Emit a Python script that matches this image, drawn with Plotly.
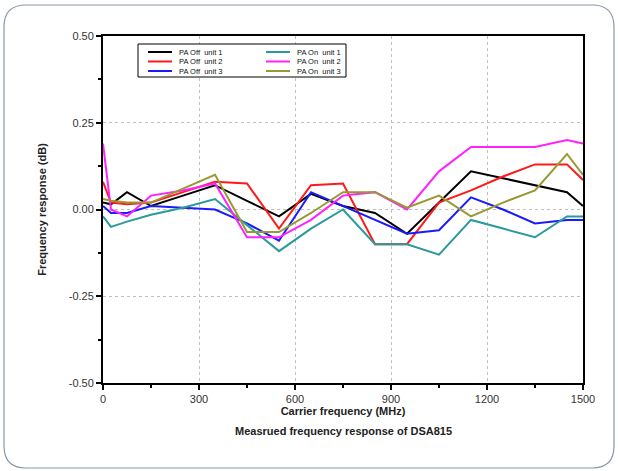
import plotly.graph_objects as go

freq = [0, 25, 75, 150, 250, 350, 450, 550, 650, 750, 850, 950, 1050, 1150, 1250, 1350, 1450, 1500]

names = ["PA Off  unit 1", "PA Off  unit 2", "PA Off  unit 3",
         "PA On  unit 1", "PA On  unit 2", "PA On  unit 3"]

off_unit1 = [0.02, 0.015, 0.05, 0.01, 0.04, 0.07, 0.025, -0.02, 0.045, 0.01, -0.01, -0.07, 0.02, 0.11, 0.09, 0.07, 0.05, 0.01]
off_unit2 = [0.08, 0.02, 0.015, 0.02, 0.05, 0.08, 0.075, -0.055, 0.07, 0.075, -0.1, -0.1, 0.02, 0.055, 0.095, 0.13, 0.13, 0.085]
off_unit3 = [0.01, -0.01, -0.01, 0.01, 0.005, 0.0, -0.04, -0.09, 0.05, 0.01, -0.03, -0.07, -0.06, 0.035, 0.0, -0.04, -0.03, -0.03]
on_unit1 = [-0.02, -0.05, -0.035, -0.015, 0.005, 0.03, -0.045, -0.12, -0.055, 0.0, -0.1, -0.1, -0.13, -0.03, -0.055, -0.08, -0.02, -0.02]
on_unit2 = [0.19, 0.0, -0.02, 0.04, 0.055, 0.075, -0.08, -0.08, -0.03, 0.04, 0.05, 0.0, 0.11, 0.18, 0.18, 0.18, 0.2, 0.19]
on_unit3 = [0.03, 0.025, 0.02, 0.02, 0.06, 0.1, -0.065, -0.065, -0.01, 0.05, 0.05, 0.005, 0.04, -0.02, 0.02, 0.055, 0.16, 0.1]

series = [off_unit1, off_unit2, off_unit3, on_unit1, on_unit2, on_unit3]
colors = ["#000000", "#ff1a1a", "#1a1aff", "#2a9a9a", "#ff22ff", "#999933"]

x_ticks = [0, 300, 600, 900, 1200, 1500]
y_ticks = [-0.50, -0.25, 0.00, 0.25, 0.50]
y_ticklabels = ["-0.50", "-0.25", "0.00", "0.25", "0.50"]

W, H = 618, 471
L, R, T, B = 103, 583, 36, 383  # plot area pixels


def px(xp):
    return (xp - L) / (R - L)


def py(yp):
    return (B - yp) / (B - T)


fig = go.Figure()
for name, vals, col in zip(names, series, colors):
    fig.add_trace(go.Scatter(x=freq, y=vals, mode="lines", name=name,
                             line=dict(color=col, width=2), showlegend=False))

shapes = []
annotations = []

# legend box (manual, compact like the original)
shapes.append(dict(type="rect", xref="paper", yref="paper",
                   x0=px(138), x1=px(346), y0=py(77), y1=py(44),
                   line=dict(color="#000000", width=1), fillcolor="white", layer="above"))
rows = [52, 61.5, 71]
cols = [(148, 172, 177), (266, 290, 295)]
for i, (name, col) in enumerate(zip(names, colors)):
    c = cols[i // 3]
    r = rows[i % 3]
    shapes.append(dict(type="line", xref="paper", yref="paper",
                       x0=px(c[0]), x1=px(c[1]), y0=py(r), y1=py(r),
                       line=dict(color=col, width=2), layer="above"))
    annotations.append(dict(text=name, xref="paper", yref="paper",
                            x=px(c[2]), y=py(r), xanchor="left", yanchor="middle",
                            showarrow=False, font=dict(size=7.5, color="#111111", family="Arial")))

# subtitle
annotations.append(dict(text="<b>Measrued frequency response of DSA815</b>", xref="paper", yref="paper",
                        x=px(343), y=py(431), xanchor="center", yanchor="middle", showarrow=False,
                        font=dict(size=11, color="#222222", family="Arial")))

# rounded outer frame
fx0, fx1, fy0, fy1, rr = 4, 614, 5, 468, 22
path = (f"M {px(fx0 + rr)},{py(fy0)} L {px(fx1 - rr)},{py(fy0)} "
        f"Q {px(fx1)},{py(fy0)} {px(fx1)},{py(fy0 + rr)} "
        f"L {px(fx1)},{py(fy1 - rr)} Q {px(fx1)},{py(fy1)} {px(fx1 - rr)},{py(fy1)} "
        f"L {px(fx0 + rr)},{py(fy1)} Q {px(fx0)},{py(fy1)} {px(fx0)},{py(fy1 - rr)} "
        f"L {px(fx0)},{py(fy0 + rr)} Q {px(fx0)},{py(fy0)} {px(fx0 + rr)},{py(fy0)} Z")
shapes.append(dict(type="path", xref="paper", yref="paper", path=path,
                   line=dict(color="#8898a8", width=1.2), layer="below"))

fig.update_layout(
    width=W, height=H,
    margin=dict(l=L, r=W - R, t=T, b=H - B, pad=0, autoexpand=False),
    paper_bgcolor="white", plot_bgcolor="white",
    font=dict(family="Arial", size=11, color="#333333"),
    shapes=shapes, annotations=annotations,
    xaxis=dict(range=[0, 1500], tickvals=x_ticks, ticktext=[str(v) for v in x_ticks],
               showline=True, linecolor="black", linewidth=2, mirror=True,
               ticks="outside", ticklen=5, tickwidth=1.5, tickcolor="black",
               minor=dict(dtick=150, ticks="outside", ticklen=3, tickcolor="black", showgrid=False),
               showgrid=True, gridcolor="#c0c0c0", griddash="dot", gridwidth=1,
               zeroline=False, tickfont=dict(size=11, color="#333333"), automargin=False,
               title=dict(text="<b>Carrier frequency (MHz)</b>", standoff=2,
                          font=dict(size=11, color="#222222"))),
    yaxis=dict(range=[-0.5, 0.5], tickvals=y_ticks, ticktext=y_ticklabels,
               showline=True, linecolor="black", linewidth=2, mirror=True,
               ticks="outside", ticklen=5, tickwidth=1.5, tickcolor="black",
               minor=dict(dtick=0.125, ticks="outside", ticklen=3, tickcolor="black", showgrid=False),
               showgrid=True, gridcolor="#c0c0c0", griddash="dot", gridwidth=1,
               zeroline=False, tickfont=dict(size=11, color="#333333"), automargin=False,
               title=dict(text="<b>Frequency response (dB)</b>", standoff=20,
                          font=dict(size=11, color="#222222"))),
)

fig.write_html("out.html", config={"displayModeBar": False},
               post_script="document.body.style.margin='0';document.body.style.overflow='hidden';")
